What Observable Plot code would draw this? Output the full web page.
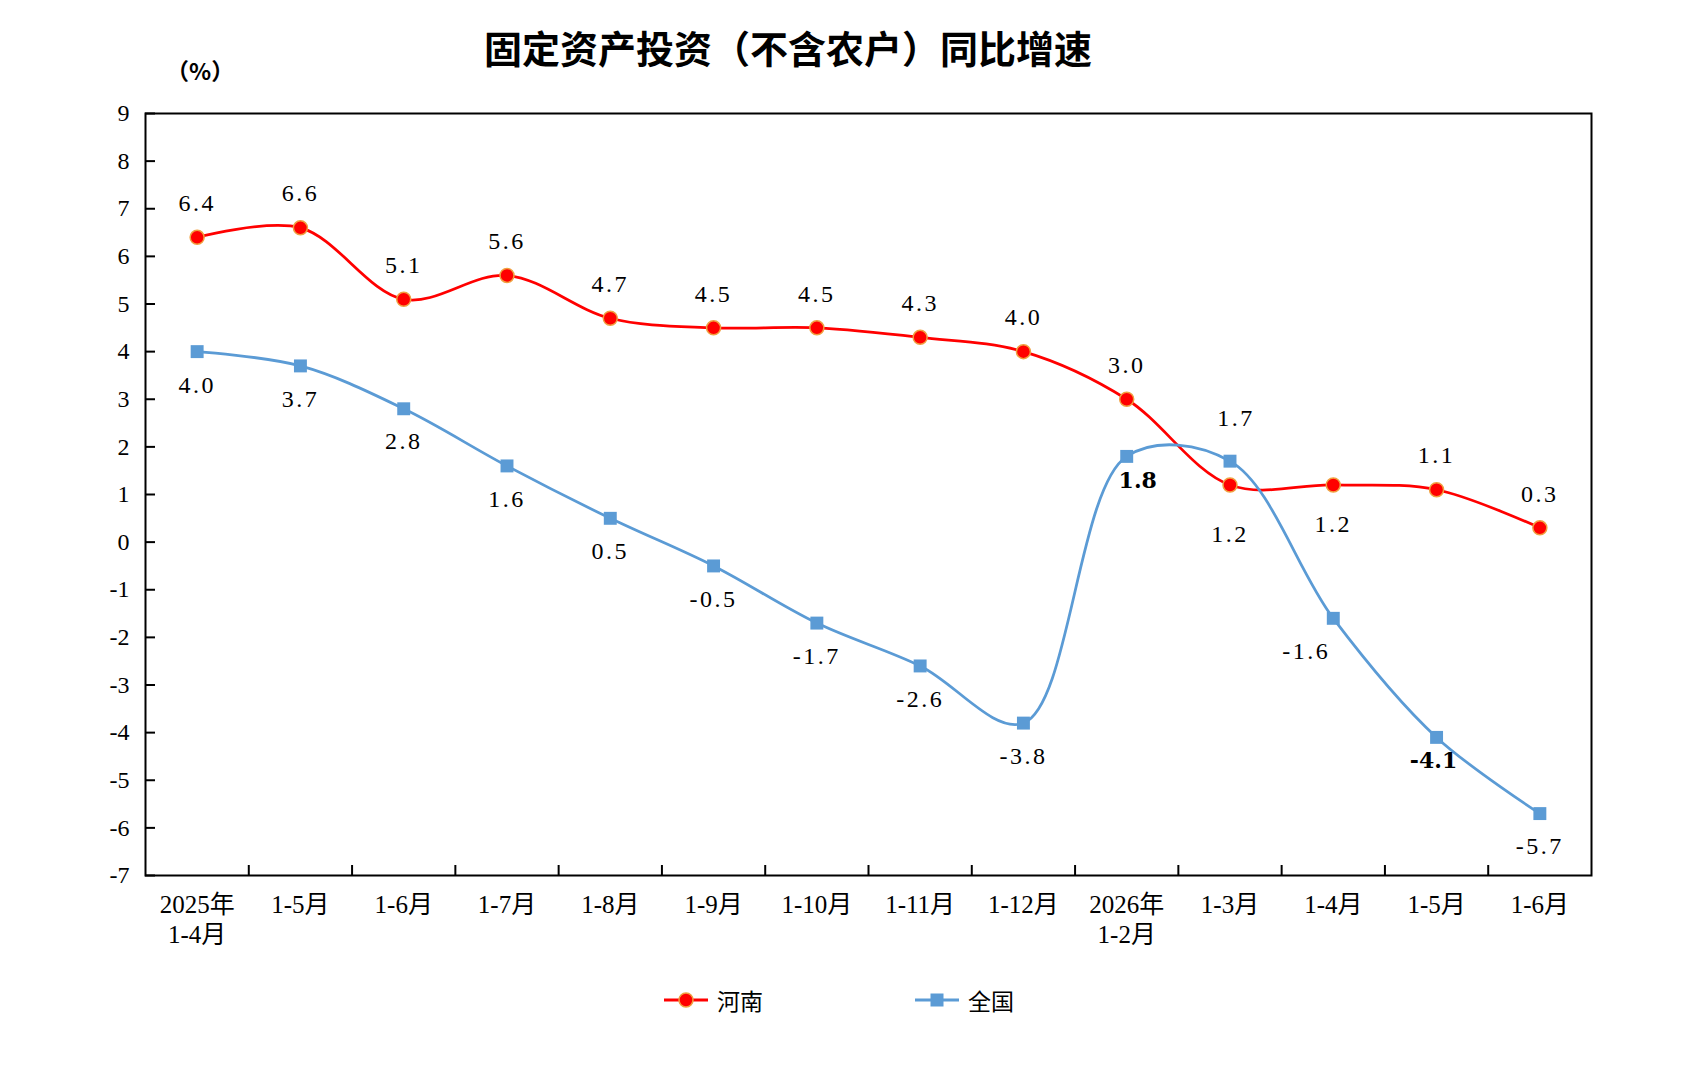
<!DOCTYPE html>
<html><head><meta charset="utf-8">
<script src="https://cdn.jsdelivr.net/npm/d3@7"></script>
<script src="https://cdn.jsdelivr.net/npm/@observablehq/plot@0.6"></script>
<style>
body{margin:0;background:#fff;}
#wrap{position:relative;width:1701px;height:1084px;background:#fff;overflow:hidden;}
#title{position:absolute;left:788px;top:26px;transform:translateX(-50%);font-weight:bold;font-size:38px;font-family:"Noto Sans CJK SC",sans-serif;white-space:nowrap;line-height:42px;color:#000;z-index:2;}
#unit{position:absolute;left:166px;top:56px;font-size:23px;font-weight:bold;font-family:"Noto Sans CJK SC",sans-serif;line-height:28px;color:#000;z-index:2;}
#chart{position:absolute;left:0;top:68px;z-index:1;}
.leg{position:absolute;top:984px;display:flex;align-items:center;height:32px;font-size:23px;font-family:"Noto Sans CJK SC",sans-serif;color:#000;}
.leg svg{margin-right:8px;}
text[aria-label="value-label"], .value-label text{letter-spacing:2.5px;}
</style>
</head><body>
<div id="wrap">
  <div id="title"></div>
  <div id="unit"></div>
  <div id="chart"></div>
  <div id="legend"></div>
</div>
<script>
const titleText = "固定资产投资（不含农户）同比增速";
const unitText = "（%）";
const categories = ["2025年\n1-4月","1-5月","1-6月","1-7月","1-8月","1-9月","1-10月","1-11月","1-12月","2026年\n1-2月","1-3月","1-4月","1-5月","1-6月"];
const seriesNames = ["河南","全国"];
const henan = [6.4,6.6,5.1,5.6,4.7,4.5,4.5,4.3,4.0,3.0,1.2,1.2,1.1,0.3];
const national = [4.0,3.7,2.8,1.6,0.5,-0.5,-1.7,-2.6,-3.8,1.8,1.7,-1.6,-4.1,-5.7];
const yTicks = d3.range(-7, 10, 1);

// label placement (pixel offsets), kept apart from the data
const henanDy = [-34,-34,-34,-34,-34,-34,-34,-34,-34,-34,49,39,-34,-34];
const henanDx = [0,0,0,0,0,0,0,0,0,0,0,0,0,0];
const nationalDy = [34,33,33,33,33,33,33,33,33,25,-43,33,24,33];
const nationalDx = [0,0,0,0,0,0,0,0,0,11,6,-27,-3,0];
const nationalBold = [false,false,false,false,false,false,false,false,false,true,false,false,true,false];

const colors = {henan: "#FF0000", henanEdge: "#F0A040", national: "#5B9BD5"};
const serif = "Liberation Serif, Noto Sans CJK SC, serif";

document.getElementById("title").textContent = titleText;
document.getElementById("unit").textContent = unitText;

const rows = categories.map((c, i) => ({i, cat: c, henan: henan[i], national: national[i]}));
const boundaries = d3.range(categories.length - 1).map(i => i + 0.5);
const fmt = v => v.toFixed(1);

const labelMarks = [];
rows.forEach((r, i) => {
  labelMarks.push(Plot.text([r], {x: "i", y: "henan", text: d => fmt(d.henan), dx: henanDx[i], dy: henanDy[i],
    fontSize: 24, fontFamily: serif, fill: "#000", ariaLabel: () => "value-label", className: "value-label"}));
  labelMarks.push(Plot.text([r], {x: "i", y: "national", text: d => fmt(d.national), dx: nationalDx[i], dy: nationalDy[i],
    fontSize: nationalBold[i] ? 22 : 24, fontWeight: nationalBold[i] ? "bold" : "normal", fontFamily: nationalBold[i] ? "DejaVu Serif, serif" : serif,
    fill: "#000", ariaLabel: () => nationalBold[i] ? "bold-label" : "value-label", className: nationalBold[i] ? "bold-label" : "value-label"}));
});

const chart = Plot.plot({
  width: 1701,
  height: 892,
  marginTop: 45,
  marginBottom: 85,
  marginLeft: 145,
  marginRight: 110,
  style: {background: "white", overflow: "visible"},
  x: {type: "linear", domain: [-0.5, categories.length - 0.5], label: null},
  y: {type: "linear", domain: [-7, 9], label: null},
  marks: [
    Plot.axisY(yTicks, {tickSize: -10, tickFormat: () => "", strokeWidth: 2, stroke: "#000", label: null}),
    Plot.axisY(yTicks, {tickSize: 0, tickPadding: 16, tickFormat: d => String(d), fontSize: 24, fontFamily: serif, fill: "#000", label: null}),
    Plot.axisX(boundaries, {tickSize: -10, tickFormat: () => "", strokeWidth: 2, stroke: "#000", label: null}),
    Plot.axisX(d3.range(categories.length), {tickSize: 0, tickPadding: 16, tickFormat: i => categories[i], fontSize: 25, lineHeight: 1.2, fontFamily: serif, fill: "#000", label: null}),
    Plot.line(rows, {x: "i", y: "henan", stroke: colors.henan, strokeWidth: 2.75, curve: "catmull-rom"}),
    Plot.line(rows, {x: "i", y: "national", stroke: colors.national, strokeWidth: 2.75, curve: "catmull-rom"}),
    Plot.dot(rows, {x: "i", y: "henan", r: 7, fill: colors.henan, stroke: colors.henanEdge, strokeWidth: 1.5}),
    Plot.dot(rows, {x: "i", y: "national", symbol: "square", r: 7.3, fill: colors.national}),
    ...labelMarks,
    Plot.frame({stroke: "#000", strokeWidth: 2})
  ]
});
document.getElementById("chart").appendChild(chart);

// legend
const legend = document.getElementById("legend");
const legItems = [
  {name: seriesNames[0], color: colors.henan, shape: "circle", left: 663},
  {name: seriesNames[1], color: colors.national, shape: "square", left: 914}
];
legItems.forEach(it => {
  const div = document.createElement("div");
  div.className = "leg";
  div.style.left = it.left + "px";
  const svg = d3.create("svg").attr("width", 46).attr("height", 24);
  svg.append("line").attr("x1", 1).attr("x2", 45).attr("y1", 12).attr("y2", 12).attr("stroke", it.color).attr("stroke-width", 3);
  if (it.shape === "circle") svg.append("circle").attr("cx", 23).attr("cy", 12).attr("r", 7).attr("fill", it.color).attr("stroke", colors.henanEdge).attr("stroke-width", 1.5);
  else svg.append("rect").attr("x", 16.5).attr("y", 5.5).attr("width", 13).attr("height", 13).attr("fill", it.color);
  div.appendChild(svg.node());
  const span = document.createElement("span");
  span.textContent = it.name;
  div.appendChild(span);
  legend.appendChild(div);
});
</script>
</body></html>
